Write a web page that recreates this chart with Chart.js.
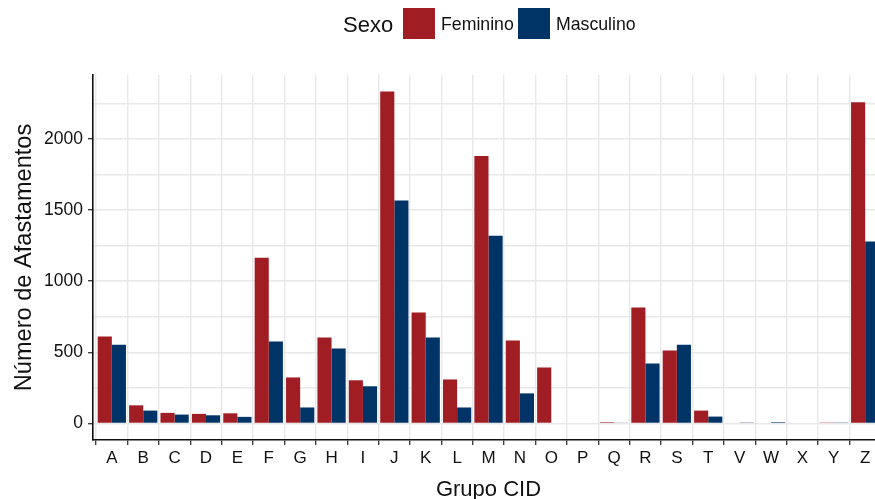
<!DOCTYPE html>
<html>
<head>
<meta charset="utf-8">
<script src="https://cdn.jsdelivr.net/npm/chart.js@4/dist/chart.umd.min.js"></script>
<style>
  html, body { margin: 0; padding: 0; background: #fff; overflow: hidden; width: 875px; height: 499px; }
  #wrap { position: relative; width: 875px; height: 499px; overflow: hidden; }
  canvas { position: absolute; left: 0; top: 0; }
  .lg { position: absolute; font-family: 'Liberation Sans', Arial, sans-serif; color: #111; line-height: 1; white-space: nowrap; }
  .sw { position: absolute; width: 32px; height: 31px; }
</style>
</head>
<body>
<div id="wrap">
  <canvas id="c" width="884" height="499"></canvas>
  <div class="lg" style="left:343px; top:13.7px; font-size:22px;">Sexo</div>
  <div class="sw" style="left:403px; top:8px; background:#A11D24;"></div>
  <div class="lg" style="left:441px; top:16px; font-size:17.7px;">Feminino</div>
  <div class="sw" style="left:518px; top:8px; background:#003366;"></div>
  <div class="lg" style="left:556px; top:16px; font-size:17.7px;">Masculino</div>
</div>
<script>
const categories = ['A','B','C','D','E','F','G','H','I','J','K','L','M','N','O','P','Q','R','S','T','V','W','X','Y','Z'];
const feminino  = [610, 127, 74, 67, 71, 1165, 323, 604, 303, 2332, 779, 309, 1880, 582, 393, 0, 9, 814, 513, 90, 0, 0, 0, 3, 2257];
const masculino = [553, 90, 62, 57, 46, 575, 112, 526, 261, 1567, 604, 112, 1319, 211, 0, 0, 4, 421, 553, 48, 3, 9, 0, 3, 1279];
const yTickValues = [0, 250, 500, 750, 1000, 1250, 1500, 1750, 2000, 2250];
const seriesNames = ['Feminino', 'Masculino'];
const seriesColors = ['#A11D24', '#003366'];

Chart.defaults.font.family = "'Liberation Sans', Arial, sans-serif";
Chart.defaults.color = '#111';

const toPoints = arr => arr.map((v, i) => ({ x: i + 1, y: v }));
const yMaxData = Math.max(...feminino, ...masculino);
const yPad = yMaxData * 0.05;

new Chart(document.getElementById('c'), {
  type: 'bar',
  data: {
    datasets: [
      { label: seriesNames[0], data: toPoints(feminino), backgroundColor: seriesColors[0], borderWidth: 0 },
      { label: seriesNames[1], data: toPoints(masculino), backgroundColor: seriesColors[1], borderWidth: 0 }
    ]
  },
  options: {
    responsive: false,
    animation: false,
    events: [],
    layout: { padding: { top: 75, left: 0, right: 0, bottom: 0 } },
    datasets: { bar: { categoryPercentage: 0.9, barPercentage: 1.0, grouped: true } },
    plugins: { legend: { display: false }, tooltip: { enabled: false } },
    scales: {
      x: {
        type: 'linear',
        min: 0.4,
        max: categories.length + 0.6,
        offset: false,
        afterBuildTicks: s => { s.ticks = categories.map((c, i) => ({ value: i + 1 })); },
        afterFit: s => { s.height = 59; },
        ticks: {
          autoSkip: false, maxRotation: 0, minRotation: 0,
          font: { size: 17 }, color: '#111', padding: 3,
          callback: v => categories[Math.round(v) - 1]
        },
        grid: { color: '#E8E8E8', lineWidth: 1.4, tickLength: 5, tickColor: '#333', tickWidth: 1.3 },
        border: { display: true, color: '#111', width: 1.6 },
        title: { display: true, text: 'Grupo CID', font: { size: 22, lineHeight: 0.8 }, color: '#111', padding: { top: 0, bottom: 0 } }
      },
      y: {
        min: -yPad,
        max: yMaxData + yPad,
        afterBuildTicks: s => { s.ticks = yTickValues.map(v => ({ value: v })); },
        afterFit: s => { s.width = 93; },
        ticks: {
          font: { size: 17.5 }, color: '#111', padding: 5,
          callback: v => (v % 500 === 0 ? String(v) : '')
        },
        grid: {
          color: '#E8E8E8', lineWidth: 1.4, tickLength: 5, tickWidth: 1.3,
          tickColor: ctx => (ctx.tick && ctx.tick.value % 500 === 0 ? '#333' : 'rgba(0,0,0,0)')
        },
        border: { display: true, color: '#111', width: 1.6 },
        title: { display: true, text: 'Número de Afastamentos', font: { size: 23.6, lineHeight: 1.2 }, color: '#111', padding: { top: 10, bottom: 0 } }
      }
    }
  }
});
</script>
</body>
</html>
